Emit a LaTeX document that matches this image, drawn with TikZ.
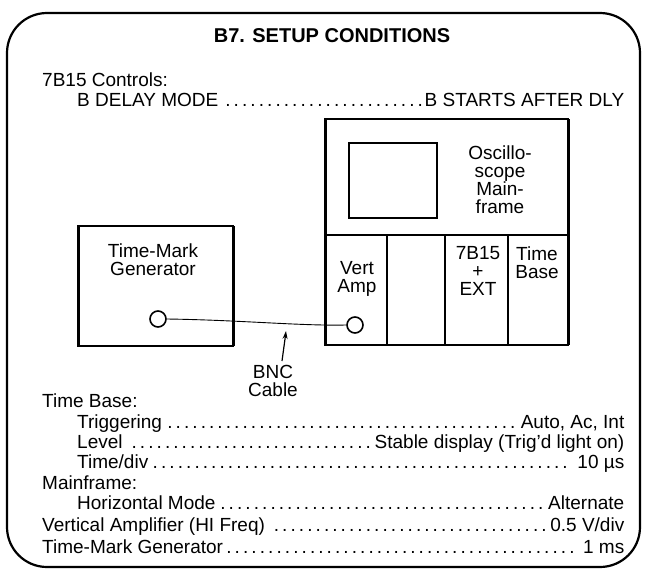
\documentclass[tikz,border=0pt]{standalone}
\usepackage{fontspec}
\setmainfont{Liberation Sans}
\usetikzlibrary{arrows.meta}
\newcommand{\lead}[3]{\makebox[#1][s]{#2\dotfill#3}}
\begin{document}
\begin{tikzpicture}[x=1pt,y=-1pt,
  txt/.style={font=\fontsize{19}{20}\selectfont,inner sep=0pt},
  lbl/.style={font=\fontsize{19}{18}\selectfont,inner sep=0pt,align=center},
  line/.style={anchor=base west,font=\fontsize{19}{20}\selectfont,inner sep=0pt},
  box/.style={line width=1.3pt},
  jack/.style={circle,draw,line width=1.6pt,minimum size=16pt,inner sep=0pt}]
\useasboundingbox (0,0) rectangle (645,570);
% outer frame
\draw[line width=2.2pt,rounded corners=40pt] (7,13) rectangle (640,567);
% title and top text
\node[txt,font=\fontsize{20}{22}\selectfont\bfseries,anchor=base] (title) at (332,42) {B7. SETUP CONDITIONS};
\node[line] (ctl) at (42,86) {7B15 Controls:};
\node[line] (dly) at (77,106) {\lead{547pt}{B DELAY MODE }{B STARTS AFTER DLY}};
% mainframe
\draw[box] (325,119) rectangle (568,345);
\draw[line width=3pt] (325,119) -- (325,345) (568,119) -- (568,345);
\draw[box] (349,143) rectangle (437,218);
\draw[box] (325,235) -- (568,235);
\draw[box] (387,235) -- (387,345) (445,235) -- (445,345) (508,235) -- (508,345);
\node[lbl] (osc) at (500,180) {Oscillo-\\scope\\Main-\\frame};
\node[lbl] (va) at (357,279) {Vert\\Amp};
\node[lbl] (b15) at (478,271) {7B15\\+\\EXT};
\node[lbl] (tb) at (537,263) {Time\\Base};
% time-mark generator
\draw[box] (78,226) rectangle (233,346);
\draw[line width=3pt] (78,226) -- (78,346) (233,226) -- (233,346);
\node[lbl] (tmg) at (153,260) {Time-Mark\\Generator};
% jacks and cable
\node[jack] (j1) at (158,319) {};
\node[jack] (j2) at (355,325) {};
\draw[line width=0.9pt] (j1.east) .. controls (240,320) and (300,326) .. (j2.west);
\node[lbl] (bnc) at (273,381) {BNC\\Cable};
\coordinate (tip) at (286,331);
\draw[line width=1.2pt,-{Stealth[length=8pt,width=5pt]}] (282,361) .. controls (284,348) .. (tip);
% settings
\node[line] (l1) at (42,407) {Time Base:};
\node[line] (l2) at (77,428) {\lead{547pt}{Triggering}{Auto, Ac, Int}};
\node[line] (l3) at (77,448) {\lead{547pt}{Level }{Stable display (Trig'd light on)}};
\node[line] (l4) at (77,468) {\lead{547pt}{Time/div}{ 10 µs}};
\node[line] (l5) at (42,489) {Mainframe:};
\node[line] (l6) at (77,509) {\lead{547pt}{Horizontal Mode}{Alternate}};
\node[line] (l7) at (42,531) {\lead{582pt}{Vertical Amplifier (HI Freq) }{0.5 V/div}};
\node[line] (l8) at (42,553) {\lead{582pt}{Time-Mark Generator}{ 1 ms}};
\end{tikzpicture}
\end{document}
